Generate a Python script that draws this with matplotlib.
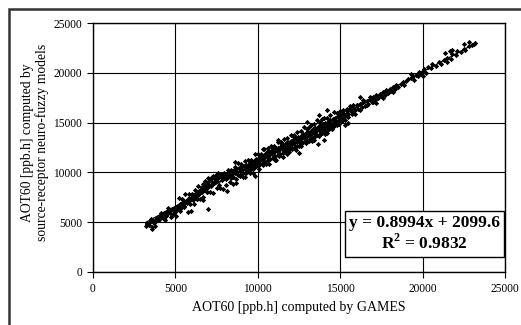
import numpy as np
import matplotlib
matplotlib.use('Agg')
import matplotlib.pyplot as plt
from matplotlib.patches import Rectangle

# AOT60 [ppb.h]: GAMES (x) against source-receptor neuro-fuzzy models (y)
points = [
    # 3000 - 5000
    (3200, 4650), (3250, 4780), (3300, 4900), (3400, 4750), (3450, 5050), (3550, 4350),
    (3600, 4500), (3650, 5150), (3700, 4950), (3800, 5300), (3850, 5100), (3900, 5450),
    (4000, 5250), (4050, 5600), (4100, 5500), (4200, 5800), (4250, 5400), (4300, 5900),
    (4400, 5650), (4450, 6050), (4500, 5850), (4600, 6200), (4650, 5950), (4700, 6100),
    (4800, 6350), (4850, 5800), (4900, 6250), (4950, 6050), (5000, 6450), (5050, 5650),
    (3500, 5300), (3750, 4600), (4150, 5950), (4350, 5200), (4550, 6400), (4750, 5500),
    # 5000 - 7000
    (5100, 6300), (5150, 6650), (5200, 6500), (5300, 6800), (5350, 6400), (5400, 6950),
    (5450, 6700), (5500, 7100), (5550, 6600), (5600, 7000), (5700, 7250), (5750, 6050),
    (5800, 7100), (5850, 7450), (5900, 7300), (5950, 6100), (6000, 7500), (6050, 7200),
    (6100, 7700), (6150, 7400), (6200, 7850), (6250, 7600), (6300, 7300), (6350, 8000),
    (6400, 7750), (6450, 8150), (6500, 7900), (6550, 8300), (6600, 8050), (6650, 7500),
    (6700, 8400), (6750, 8200), (6800, 8650), (6850, 8350), (6900, 8800), (6950, 6350),
    (7000, 8500), (7000, 9050), (6900, 8050), (6700, 8850),
    # 7000 - 10000
    (7050, 8750), (7100, 9300), (7150, 8600), (7200, 9500), (7250, 9050), (7300, 9650),
    (7350, 8900), (7400, 9300), (7450, 9750), (7500, 9100), (7550, 9600), (7600, 9400),
    (7650, 8700), (7700, 9800), (7750, 9500), (7800, 9200), (7850, 9700), (7900, 9400),
    (7950, 9900), (8000, 9600), (8050, 9300), (8100, 9800), (8150, 8100), (8200, 9500),
    (8250, 10000), (8300, 9700), (8350, 9400), (8400, 10100), (8450, 9800), (8500, 9500),
    (8550, 10200), (8600, 9900), (8650, 8900), (8700, 10300), (8750, 10000), (8800, 9700),
    (8850, 10400), (8900, 10100), (8950, 9600), (9000, 10500), (9050, 10200), (9100, 9900),
    (9150, 10600), (9200, 10300), (9250, 9500), (9300, 10700), (9350, 10400), (9400, 10100),
    (9450, 10800), (9500, 10500), (9550, 10200), (9600, 11000), (9650, 10700), (9700, 10300),
    (9750, 11100), (9800, 10800), (9850, 10500), (9900, 11300), (9950, 11000), (10000, 10600),
    # 10000 - 15000
    (10050, 11400), (10100, 11100), (10150, 10800), (10200, 11600), (10250, 11200), (10300, 10900),
    (10350, 11700), (10400, 11400), (10450, 11000), (10500, 11900), (10550, 11500), (10600, 11200),
    (10650, 12000), (10700, 11700), (10750, 11300), (10800, 12100), (10850, 11800), (10900, 11400),
    (10950, 12300), (11000, 12000), (11050, 11600), (11100, 12400), (11150, 12100), (11200, 11700),
    (11250, 12500), (11300, 12200), (11350, 11800), (11400, 12700), (11450, 12300), (11500, 11900),
    (11550, 12800), (11600, 12500), (11650, 12100), (11700, 13000), (11750, 12600), (11800, 12200),
    (11850, 13100), (11900, 12800), (11950, 12300), (12000, 13200), (12050, 12900), (12100, 12500),
    (12150, 13300), (12200, 13000), (12250, 12600), (12300, 13500), (12350, 13100), (12400, 12700),
    (12450, 13600), (12500, 13200), (12550, 12800), (12600, 13700), (12650, 13400), (12700, 13000),
    (12750, 13900), (12800, 13500), (12850, 13100), (12900, 14000), (12950, 13600), (13000, 13200),
    (13050, 14100), (13100, 13800), (13150, 13400), (13200, 14200), (13250, 13900), (13300, 13500),
    (13350, 14400), (13400, 14000), (13450, 13700), (13500, 14500), (13550, 14200), (13600, 13800),
    (13650, 14600), (13700, 14300), (13750, 13900), (13800, 14800), (13850, 14400), (13900, 14000),
    (13950, 14900), (14000, 14600), (14050, 14200), (14100, 15000), (14150, 14700), (14200, 14300),
    (14250, 15100), (14300, 14800), (14350, 14400), (14400, 15300), (14450, 14900), (14500, 14600),
    (14550, 15400), (14600, 15100), (14650, 14700), (14700, 15500), (14750, 15200), (14800, 14800),
    (14850, 15700), (14900, 15300), (14950, 15000), (15000, 15800),
    (10120, 11300), (10480, 11600), (10820, 11900), (11180, 12200), (11520, 12400), (11880, 12700),
    (12220, 13000), (12580, 13300), (12920, 13600), (13280, 14000), (13620, 14300), (13980, 14500),
    (14320, 14900), (14680, 15200), (11050, 11200), (11800, 11800), (12650, 12700), (13400, 13300),
    (14200, 14000), (10600, 12400), (11400, 13100), (12200, 13800), (13100, 14600), (13900, 15400),
    (12970, 15060), (13700, 15760), (14180, 16260), (13640, 12850), (15270, 14760), (16180, 17570),
    (17200, 16970), (12500, 11900), (11200, 13300), (10300, 12300), (9800, 9600), (8600, 11000),
    (14000, 13300), (15500, 15000),
    # wider part of the band, 5000 - 17000
    (5200, 7380), (5300, 6170), (5400, 7360), (5500, 6550), (5600, 7840), (5700, 6930),
    (5800, 7820), (5900, 6810), (6000, 7800), (6100, 6790), (6200, 8280), (6300, 7370),
    (6400, 8660), (6500, 7350), (6600, 8540), (6700, 7230), (6800, 9120), (6900, 8010),
    (7000, 9400), (7100, 7990), (7200, 9480), (7300, 7970), (7400, 9560), (7500, 8450),
    (7600, 9940), (7700, 8430), (7800, 9820), (7900, 8310), (8000, 9800), (8100, 8690),
    (8200, 10280), (8300, 9070), (8400, 10260), (8500, 8850), (8600, 10540), (8700, 9330),
    (8800, 10920), (8900, 9710), (9000, 10800), (9100, 9490), (9200, 11180), (9300, 9970),
    (9400, 11260), (9500, 9950), (9600, 11240), (9700, 9930), (9800, 11820), (9900, 10610),
    (10000, 11800), (10100, 10390), (10200, 11880), (10300, 10770), (10400, 12360), (10500, 10850),
    (10600, 12140), (10700, 10830), (10800, 12620), (10900, 11410), (11000, 12700), (11100, 11290),
    (11200, 13080), (11300, 11670), (11400, 12960), (11500, 11550), (11600, 13340), (11700, 12130),
    (11800, 13420), (11900, 12010), (12000, 13800), (12100, 12390), (12200, 13580), (12300, 12270),
    (12400, 14060), (12500, 12650), (12600, 14140), (12700, 13030), (12800, 14520), (12900, 12910),
    (13000, 14400), (13100, 13190), (13200, 14780), (13300, 13170), (13400, 14860), (13500, 13650),
    (13600, 15240), (13700, 13630), (13800, 15020), (13900, 13910), (14000, 15500), (14100, 13890),
    (14200, 15480), (14300, 14470), (14400, 15760), (14500, 14350), (14600, 16040), (14700, 14730),
    (14800, 15920), (14900, 14810), (15000, 16200), (15100, 15190), (15200, 16280), (15300, 15270),
    (15400, 16360), (15500, 15550), (15600, 16640), (15700, 15830), (15800, 16720), (15900, 15910),
    (16000, 16800), (16200, 16280), (16400, 17260), (16600, 16740), (16800, 17620), (17000, 17100),
    # 15000 - 20000
    (15100, 15500), (15200, 16000), (15300, 15700), (15400, 16200), (15500, 15900), (15600, 16400),
    (15700, 16100), (15800, 16600), (15900, 16300), (16000, 16800), (16100, 16400), (16200, 16900),
    (16300, 16600), (16400, 17100), (16500, 16700), (16600, 17200), (16700, 16900), (16800, 17400),
    (16900, 17100), (17000, 17600), (17100, 17300), (17200, 17800), (17300, 17500), (17400, 17900),
    (17500, 17700), (17600, 18100), (17700, 17800), (17800, 18300), (17900, 18000), (18000, 18400),
    (18100, 18200), (18200, 18600), (18300, 18400), (18400, 18800), (18500, 18600), (18700, 18900),
    (18800, 19100), (19000, 19200), (19100, 19400), (19300, 19500), (19400, 19700), (19600, 19800),
    (19700, 19700), (19800, 20100), (19900, 19900), (20000, 20200), (20000, 19680),
    (17600, 17500), (18200, 18100), (18900, 18800), (19300, 19900), (19500, 19300),
    # 20000 - 23200
    (20100, 20400), (20200, 20000), (20300, 20600), (20500, 20500), (20600, 20900), (20800, 20700),
    (21000, 21100), (21100, 20900), (21300, 21300), (21500, 21500), (21700, 21400), (21800, 21900),
    (22000, 21800), (22100, 22200), (22300, 22100), (22500, 22400), (22600, 22300), (22800, 22700),
    (23000, 22800), (23100, 22900), (23200, 23000), (21330, 21990), (21760, 22290), (21450, 21090),
    (21640, 22190), (22500, 22900), (22800, 23100),
]
games = np.array([p[0] for p in points], dtype=float)
neuro_fuzzy = np.array([p[1] for p in points], dtype=float)

# Excel linear trendline as printed on the chart
slope = 0.8994
intercept = 2099.6
r_squared = 0.9832

ticks = [0, 5000, 10000, 15000, 20000, 25000]

plt.rcParams['font.family'] = ['Liberation Serif', 'DejaVu Serif']
plt.rcParams['mathtext.fontset'] = 'custom'
plt.rcParams['mathtext.rm'] = 'Liberation Serif:bold'
plt.rcParams['mathtext.bf'] = 'Liberation Serif:bold'

fig = plt.figure(figsize=(5.21, 3.25), dpi=100)
ax = fig.add_axes([0.1785, 0.1631, 0.7908, 0.7661])

ax.plot(games, neuro_fuzzy, linestyle='none', marker='D', markersize=2.7,
        color='black', markeredgewidth=0)

line_x = np.array([games.min(), games.max()])
ax.plot(line_x, slope * line_x + intercept, color='black', linewidth=0.9)

ax.set_xlim(0, 25000)
ax.set_ylim(0, 25000)
ax.set_xticks(ticks)
ax.set_yticks(ticks)
ax.grid(True, color='black', linewidth=0.8)
ax.set_axisbelow(True)
for s in ax.spines.values():
    s.set_linewidth(1.0)
ax.tick_params(direction='out', length=4, width=0.8, labelsize=8.3, pad=4)

ax.set_xlabel('AOT60 [ppb.h] computed by GAMES', fontsize=10, labelpad=4)
ax.set_ylabel('AOT60 [ppb.h] computed by\nsource-receptor neuro-fuzzy models',
              fontsize=9.8, linespacing=1.1)
ax.yaxis.set_label_coords(-0.107, 0.52)

ax.text(0.805, 0.153,
        'y = %.4fx + %.1f\nR$^2$ = %.4f' % (slope, intercept, r_squared),
        transform=ax.transAxes, ha='center', va='center', multialignment='center',
        fontsize=12.5, fontweight='bold', linespacing=1.15, zorder=5,
        bbox=dict(boxstyle='square,pad=0.22', fc='white', ec='black', lw=1.0))

# outer chart frame, only left/top edges show in the crop
fig.patches.append(Rectangle((9 / 521, -0.1), 1.2, 1 - 9 / 325 + 0.1,
                             transform=fig.transFigure, fill=False,
                             edgecolor='#333333', linewidth=1.8))

fig.savefig('out.png', dpi=100)
